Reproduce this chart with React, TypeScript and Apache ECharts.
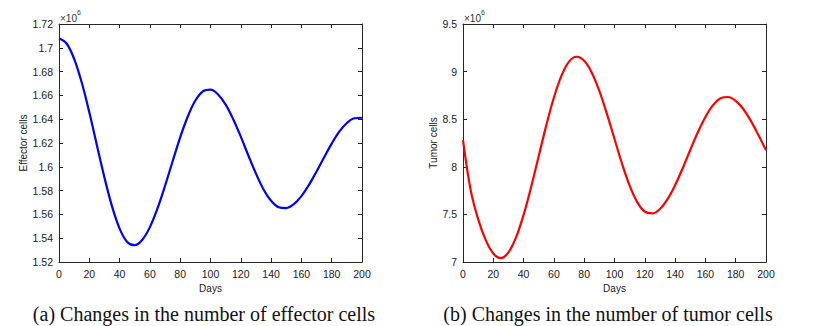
import React, { useEffect, useRef } from "react";
import * as echarts from "echarts";

const days = [0, 5, 10, 15, 20, 25, 30, 35, 40, 45, 50, 55, 60, 65, 70, 75, 80, 85, 90, 95, 100, 105, 110, 115, 120, 125, 130, 135, 140, 145, 150, 155, 160, 165, 170, 175, 180, 185, 190, 195, 200];

const effectorCells = [1708000, 1703600, 1690700, 1670800, 1645800, 1618200, 1591000, 1566700, 1548100, 1536900, 1534100, 1538700, 1549300, 1565000, 1584100, 1604700, 1624800, 1642300, 1655700, 1663400, 1664800, 1660800, 1652300, 1640000, 1625300, 1609500, 1594300, 1581000, 1571400, 1566000, 1565300, 1568600, 1575400, 1584800, 1596100, 1608000, 1619500, 1629500, 1636800, 1640800, 1641200];

const tumorCells = [8280000, 7760000, 7450000, 7230000, 7090000, 7040000, 7101000, 7258000, 7495000, 7790000, 8114000, 8438000, 8728000, 8958000, 9105000, 9156000, 9113000, 8989000, 8797000, 8556000, 8292000, 8031000, 7802000, 7629000, 7528000, 7510000, 7557000, 7660000, 7807000, 7985000, 8177000, 8363000, 8524000, 8648000, 8720000, 8733000, 8693000, 8607000, 8482000, 8333000, 8174000];

const effectorTicks = { min: 1520000, max: 1720000, interval: 20000 };
const tumorTicks = { min: 7000000, max: 9500000, interval: 500000 };
const dayTicks = { min: 0, max: 200, interval: 20 };

const captions = ["(a) Changes in the number of effector cells", "(b) Changes in the number of tumor cells"];

const AXIS_COLOR = "#262626";
const SANS = "Liberation Sans, Arial, Helvetica, sans-serif";
const SERIF = "Liberation Serif, Times New Roman, serif";

export default function App() {
  const ref = useRef<HTMLDivElement>(null);
  useEffect(() => {
    if (!ref.current) return;
    const chart = echarts.init(ref.current, null, { renderer: "svg" });
    const grids = [
      { left: 59, top: 24, width: 303, height: 238 },
      { left: 463, top: 24, width: 303, height: 238 },
    ];
    const lineStyle = { color: AXIS_COLOR, width: 1 };
    const xAxes: any[] = [];
    const yAxes: any[] = [];
    [0, 1].forEach((g) => {
      xAxes.push({
        type: "value", gridIndex: g, position: "bottom", ...dayTicks,
        axisLine: { show: true, lineStyle },
        axisTick: { show: true, inside: true, length: 4, lineStyle },
        axisLabel: { color: "#1a1a1a", fontFamily: SANS, fontSize: 10.5, margin: 6 },
        splitLine: { show: false },
        name: "Days", nameLocation: "middle", nameGap: 21,
        nameTextStyle: { color: "#1a1a1a", fontFamily: SANS, fontSize: 10 },
      });
      xAxes.push({
        type: "value", gridIndex: g, position: "top", ...dayTicks,
        axisLine: { show: true, onZero: false, lineStyle },
        axisTick: { show: true, inside: true, length: 4, lineStyle },
        axisLabel: { show: false }, splitLine: { show: false },
      });
      const yt = g === 0 ? effectorTicks : tumorTicks;
      yAxes.push({
        type: "value", gridIndex: g, position: "left", ...yt,
        axisLine: { show: true, onZero: false, lineStyle },
        axisTick: { show: true, inside: true, length: 4, lineStyle },
        axisLabel: {
          color: "#1a1a1a", fontFamily: SANS, fontSize: 10.5, margin: 6,
          formatter: (v: number) => String(Math.round(v / 1000) / 1000),
        },
        splitLine: { show: false },
        name: g === 0 ? "Effector cells" : "Tumor cells",
        nameLocation: "middle", nameGap: g === 0 ? 27 : 23, nameRotate: 90,
        nameTextStyle: { color: "#1a1a1a", fontFamily: SANS, fontSize: 10 },
      });
      yAxes.push({
        type: "value", gridIndex: g, position: "right", ...yt,
        axisLine: { show: true, onZero: false, lineStyle },
        axisTick: { show: true, inside: true, length: 4, lineStyle },
        axisLabel: { show: false }, splitLine: { show: false },
      });
    });
    const expLabel = (left: number) => ({
      type: "text", left, top: 9,
      style: {
        text: "{a|×10}{b|6}",
        rich: {
          a: { fontFamily: SANS, fontSize: 10, fill: "#333", padding: [4, 0, 0, 0] },
          b: { fontFamily: SANS, fontSize: 7, fill: "#333", verticalAlign: "top", padding: [0, 0, 6, 0] },
        },
      },
    });
    chart.setOption({
      animation: false,
      backgroundColor: "#ffffff",
      grid: grids,
      xAxis: xAxes,
      yAxis: yAxes,
      series: [
        {
          type: "line", xAxisIndex: 0, yAxisIndex: 0, smooth: 0.35, showSymbol: false,
          data: days.map((d, i) => [d, effectorCells[i]]),
          lineStyle: { color: "#0000ff", width: 2.2 }, itemStyle: { color: "#0000ff" },
        },
        {
          type: "line", xAxisIndex: 2, yAxisIndex: 2, smooth: 0.35, showSymbol: false,
          data: days.map((d, i) => [d, tumorCells[i]]),
          lineStyle: { color: "#ff0000", width: 2.2 }, itemStyle: { color: "#ff0000" },
        },
      ],
      graphic: [
        expLabel(60),
        expLabel(464),
        {
          type: "text", x: 204, y: 314,
          style: { text: captions[0], fontFamily: SERIF, fontSize: 20, fill: "#111", align: "center", verticalAlign: "middle" },
        },
        {
          type: "text", x: 608, y: 314,
          style: { text: captions[1], fontFamily: SERIF, fontSize: 20, fill: "#111", align: "center", verticalAlign: "middle" },
        },
      ],
    });
    return () => chart.dispose();
  }, []);
  return <div ref={ref} style={{ position: "fixed", left: 0, top: 0, width: 836, height: 326 }} />;
}
